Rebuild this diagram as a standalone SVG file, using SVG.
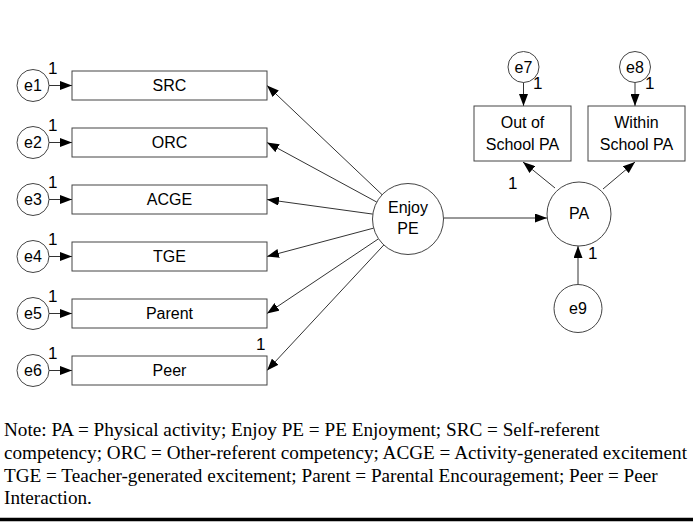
<svg xmlns="http://www.w3.org/2000/svg" width="693" height="523" viewBox="0 0 693 523">
<defs>
<marker id="ah" markerWidth="12" markerHeight="9" refX="12" refY="4.5" orient="auto" markerUnits="userSpaceOnUse">
<path d="M0,0 L12,4.5 L0,9 z" fill="#000"/>
</marker>
<style>
.n{fill:#fff;stroke:#444;stroke-width:1}
.t{font-family:"Liberation Sans",Arial,sans-serif;font-size:16px;fill:#000;text-anchor:middle}
.one{font-family:"Liberation Sans",Arial,sans-serif;font-size:17px;fill:#000}
.c line{stroke:#333;stroke-width:1;marker-end:url(#ah)}
.note{font-family:"Liberation Serif","Times New Roman",serif;font-size:19.2px;fill:#000}
</style>
</defs>
<rect width="693" height="523" fill="#fff"/>
<g class="c" id="connectors">
<line x1="49" y1="85.5" x2="72" y2="85.5"/>
<line x1="49" y1="142.5" x2="72" y2="142.5"/>
<line x1="49" y1="199.5" x2="72" y2="199.5"/>
<line x1="49" y1="256.5" x2="72" y2="256.5"/>
<line x1="49" y1="313.5" x2="72" y2="313.5"/>
<line x1="49" y1="370.5" x2="72" y2="370.5"/>
<line x1="382" y1="194.6" x2="267" y2="85.5"/>
<line x1="376.8" y1="202.1" x2="267" y2="142.5"/>
<line x1="372.8" y1="214.1" x2="267" y2="199.5"/>
<line x1="373.7" y1="228.1" x2="267" y2="256.5"/>
<line x1="378.5" y1="238.8" x2="267" y2="313.5"/>
<line x1="383.8" y1="245" x2="267" y2="370.5"/>
<line x1="444" y1="218" x2="547" y2="218"/>
<line x1="555" y1="188" x2="523" y2="162"/>
<line x1="603" y1="189" x2="635" y2="162"/>
<line x1="523.5" y1="82" x2="523.5" y2="106"/>
<line x1="635" y1="82" x2="635" y2="106"/>
<line x1="578" y1="284" x2="578" y2="246"/>
</g>
<g id="e1"><circle class="n" cx="33" cy="85.5" r="16"/><text class="t" x="33" y="91">e1</text><text class="one" x="48" y="74">1</text></g>
<g id="e2"><circle class="n" cx="33" cy="142.5" r="16"/><text class="t" x="33" y="148">e2</text><text class="one" x="48" y="131">1</text></g>
<g id="e3"><circle class="n" cx="33" cy="199.5" r="16"/><text class="t" x="33" y="205">e3</text><text class="one" x="48" y="188">1</text></g>
<g id="e4"><circle class="n" cx="33" cy="256.5" r="16"/><text class="t" x="33" y="262">e4</text><text class="one" x="48" y="245">1</text></g>
<g id="e5"><circle class="n" cx="33" cy="313.5" r="16"/><text class="t" x="33" y="319">e5</text><text class="one" x="48" y="302">1</text></g>
<g id="e6"><circle class="n" cx="33" cy="370.5" r="16"/><text class="t" x="33" y="376">e6</text><text class="one" x="48" y="359">1</text></g>
<g id="SRC"><rect class="n" x="72" y="71" width="195" height="29"/><text class="t" x="169.5" y="91">SRC</text></g>
<g id="ORC"><rect class="n" x="72" y="128" width="195" height="29"/><text class="t" x="169.5" y="148">ORC</text></g>
<g id="ACGE"><rect class="n" x="72" y="185" width="195" height="29"/><text class="t" x="169.5" y="205">ACGE</text></g>
<g id="TGE"><rect class="n" x="72" y="242" width="195" height="29"/><text class="t" x="169.5" y="262">TGE</text></g>
<g id="Parent"><rect class="n" x="72" y="299" width="195" height="29"/><text class="t" x="169.5" y="319">Parent</text></g>
<g id="Peer"><rect class="n" x="72" y="356" width="195" height="29"/><text class="t" x="169.5" y="376">Peer</text><text class="one" x="256" y="350">1</text></g>
<g id="EnjoyPE"><circle class="n" cx="408" cy="219" r="35.5"/><text class="t" x="408" y="213">Enjoy</text><text class="t" x="408" y="234">PE</text></g>
<g id="PA"><circle class="n" cx="579" cy="214" r="32"/><text class="t" x="579" y="219">PA</text><text class="one" x="508" y="189">1</text></g>
<g id="OutSchoolPA"><rect class="n" x="474" y="106" width="97" height="55"/><text class="t" x="522.5" y="128">Out of</text><text class="t" x="522.5" y="150">School PA</text></g>
<g id="WithinSchoolPA"><rect class="n" x="588" y="106" width="97" height="55"/><text class="t" x="636.5" y="128">Within</text><text class="t" x="636.5" y="150">School PA</text></g>
<g id="e7"><circle class="n" cx="523.5" cy="67" r="15.5"/><text class="t" x="523.5" y="73">e7</text><text class="one" x="533" y="89">1</text></g>
<g id="e8"><circle class="n" cx="635" cy="67" r="15.5"/><text class="t" x="635" y="73">e8</text><text class="one" x="645" y="89">1</text></g>
<g id="e9"><circle class="n" cx="578" cy="308.5" r="24"/><text class="t" x="578" y="314">e9</text><text class="one" x="588" y="259">1</text></g>
<g id="note">
<text class="note" x="4" y="436">Note: PA = Physical activity; Enjoy PE = PE Enjoyment; SRC = Self-referent</text>
<text class="note" x="4" y="459">competency; ORC = Other-referent competency; ACGE = Activity-generated excitement</text>
<text class="note" x="4" y="482">TGE = Teacher-generated excitement; Parent = Parental Encouragement; Peer = Peer</text>
<text class="note" x="4" y="504">Interaction.</text>
<line x1="0" y1="519.5" x2="693" y2="519.5" stroke="#000" stroke-width="3.5"/>
</g>
</svg>
